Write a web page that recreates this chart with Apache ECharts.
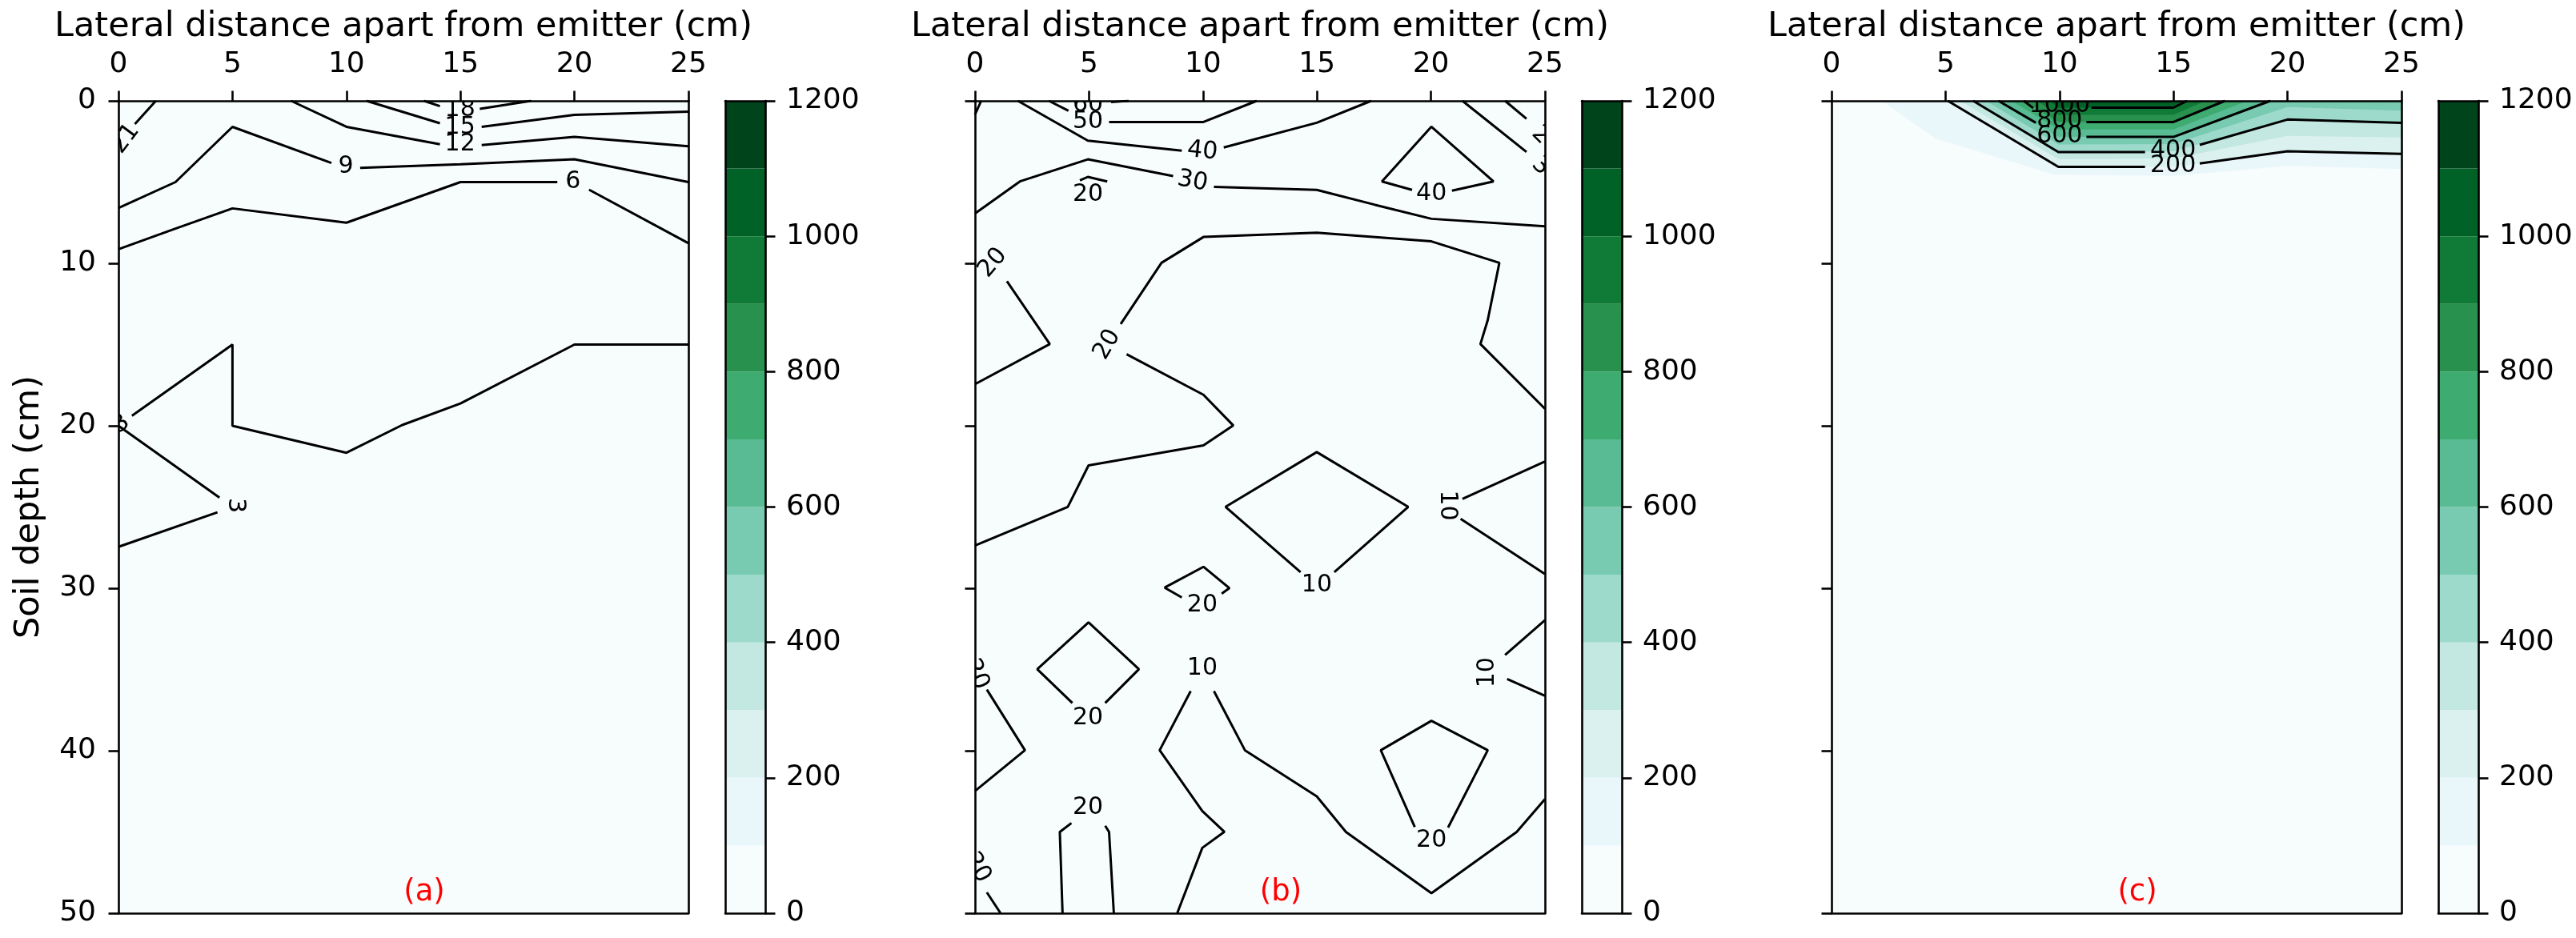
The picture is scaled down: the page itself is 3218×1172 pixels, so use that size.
<!DOCTYPE html>
<html>
<head>
<meta charset="utf-8">
<script src="https://cdn.jsdelivr.net/npm/echarts@6/dist/echarts.min.js"></script>
<style>
  html, body { margin: 0; padding: 0; background: #fff; }
  #chart { width: 3218px; height: 1172px; }
</style>
</head>
<body>
<div id="chart"></div>
<script>
// axis ticks
const xTicks = [0, 5, 10, 15, 20, 25];
const yTicks = [0, 10, 20, 30, 40, 50];
const cbTicks = [0, 200, 400, 600, 800, 1000, 1200];
// filled contour levels and their colours (BuGn)
const levels = [0, 100, 200, 300, 400, 500, 600, 700, 800, 900, 1000, 1100, 1200];
const bandColors = ['#f7fcfd', '#eaf7fa', '#daf1f0', '#c3e8e1', '#9edacc', '#78cab1',
  '#59bb93', '#3eab71', '#29914e', '#107b37', '#006227', '#00441b'];

const xName = 'Lateral distance apart from emitter (cm)';
const yName = 'Soil depth (cm)';
const panelTags = ['(a)', '(b)', '(c)'];

// panel (a): contour lines (levels 3..21), pieces broken where labels sit
const linesA = [
  [[1.64, 0], [0.72, 1.43]],                                   // 21
  [[13.4, 0], [14.1, 0.33]], [[15.85, 0.49], [18.1, 0]],       // 18
  [[10.88, 0], [14.1, 1.38]], [[15.93, 1.6], [20, 0.86], [25, 0.66]],   // 15
  [[7.57, 0], [10, 1.6], [14.1, 2.67]], [[15.93, 2.72], [20, 2.22], [25, 2.8]],  // 12
  [[0, 6.6], [2.5, 5], [5, 1.6], [9.34, 3.82]], [[10.6, 4.12], [15, 3.9], [20, 3.6], [25, 5.0]], // 9
  [[0, 9.13], [2.5, 7.86], [5, 6.62], [10, 7.5], [15, 5.0], [19.25, 5.0]], [[20.64, 5.47], [25, 8.76]], // 6
  [[0.59, 19.38], [5, 15], [5, 20], [10, 21.66], [12.45, 19.95], [15, 18.63], [20, 15], [25, 15]], // 3
  [[0, 20], [4.43, 24.42]], [[4.34, 25.33], [0, 27.45]]        // 3
];
const labelsA = [
  [0.31, 2.33, '21', 53],
  [14.98, 0.55, '18', 0],
  [14.98, 1.62, '15', 0],
  [14.98, 2.67, '12', 0],
  [9.97, 4.07, '9', 0],
  [19.94, 4.98, '6', 0],
  [0.12, 19.9, '3', 35],
  [5.13, 24.9, '3', -90]
];

// panel (b): contour lines (levels 10..60)
const linesB = [
  [[0, 0.85], [0.27, 0]],
  [[5.97, 0.08], [6.74, 0]],                                    // 60
  [[3.24, 0], [4.1, 0.61]], [[5.88, 1.31], [10, 1.31], [12.36, 0]],   // 50
  [[1.88, 0], [4.95, 2.45], [9.07, 3.07]], [[10.91, 2.87], [14.99, 1.35], [17.38, 0]], // 40
  [[0, 6.93], [1.97, 4.96], [4.95, 3.6], [8.69, 4.63]],
  [[10.48, 5.29], [14.99, 5.48], [17.55, 6.4], [20.02, 7.26], [25, 7.72]],  // 30
  [[19.17, 5.48], [17.85, 4.96], [20.02, 1.59], [22.74, 4.96], [20.92, 5.53]], // 40
  [[4.6, 4.9], [4.95, 4.68], [5.8, 4.96]],                      // 20
  [[21.38, 0], [24.19, 3.15]],                                  // 30
  [[23.25, 0], [24.19, 1.1]],                                   // 20
  [[1.4, 11.1], [3.28, 14.97], [0, 17.44]],                     // 20
  [[0, 27.37], [4.07, 24.99], [4.98, 22.44], [10.02, 21.21], [11.33, 19.98], [10.02, 18.09], [6.65, 15.6]],
  [[6.39, 13.74], [8.18, 9.97], [10.02, 8.38], [14.99, 8.11], [20.02, 8.65], [23.0, 9.97],
    [22.49, 13.5], [22.17, 14.97], [25, 18.95]],               // 20
  [[15.76, 29.01], [19.0, 24.99], [14.99, 21.62], [10.99, 24.99], [14.28, 29.01]], // 10
  [[25, 22.2], [21.38, 24.5]], [[21.3, 25.73], [25, 29.13]],    // 10
  [[9.07, 30.57], [8.32, 29.96], [10.02, 28.68], [11.16, 29.99], [10.82, 30.33]], // 20
  [[25, 31.97], [23.25, 34.11]], [[23.34, 35.59], [25, 36.62]], // 10
  [[4.27, 37.06], [2.73, 34.98], [4.98, 32.1], [7.19, 34.98], [5.71, 37.06]], // 20
  [[0.52, 36.24], [2.19, 39.97], [0, 42.48]],                   // 20
  [[0.52, 48.72], [1.12, 50]],                                  // 20
  [[3.84, 50], [3.72, 45.0], [4.23, 44.45]], [[5.71, 44.62], [5.88, 45.0], [6.09, 50]], // 20
  [[8.87, 50], [9.97, 45.98], [10.94, 44.99], [9.97, 43.71], [8.10, 39.97], [9.46, 36.33]],
  [[10.48, 36.33], [11.84, 39.97], [14.99, 42.81], [16.27, 45.0], [20.02, 48.77], [23.76, 45.0], [25, 42.98]], // 10
  [[19.29, 44.7], [17.8, 39.97], [20.02, 38.16], [22.49, 39.97], [20.75, 44.73]]  // 20
];
const labelsB = [
  [4.95, 0.28, '60', 0],
  [4.95, 1.31, '50', 0],
  [9.97, 3.1, '40', -6],
  [9.54, 4.96, '30', -11],
  [20.02, 5.7, '40', 0],
  [4.95, 5.75, '20', 0],
  [25.05, 2.45, '20', -45],
  [25.05, 4.35, '30', -45],
  [0.78, 9.97, '20', 50],
  [5.8, 15.0, '20', 60],
  [14.99, 29.83, '10', 0],
  [20.7, 24.9, '10', -90],
  [9.97, 31.03, '20', 0],
  [22.49, 35.18, '10', 90],
  [4.95, 37.97, '20', 0],
  [0.05, 35.3, '20', -67],
  [0.1, 47.2, '20', -60],
  [4.95, 43.52, '20', 0],
  [9.97, 34.93, '10', 0],
  [20.02, 45.52, '20', 0]
];

// panel (c): contour lines (levels 200..1000)
const linesC = [
  [[5.1, 0], [9.95, 4.06], [13.75, 4.06]], [[16.15, 3.86], [20, 3.1], [25, 3.26]],   // 200
  [[6.21, 0], [9.95, 3.15], [13.75, 3.15]], [[16.15, 2.71], [20, 1.15], [25, 1.35]], // 400
  [[7.32, 0], [8.96, 1.35]], [[11.18, 2.22], [15, 2.22], [19.25, 0]],               // 600
  [[8.43, 0], [8.85, 0.45]], [[11.18, 1.3], [15, 1.3], [17.26, 0]],                 // 800
  [[11.4, 0.42], [15, 0.42], [15.6, 0]]                                             // 1000
];
const labelsC = [
  [10.0, 0.3, '1000', 0],
  [10.0, 1.26, '800', 0],
  [10.0, 2.2, '600', 0],
  [14.98, 3.05, '400', 0],
  [14.98, 4.0, '200', 0]
];
// panel (c): boundaries of the filled bands, 100 .. 1100 (region above each is filled)
const fillC = [
  [[2.2, 0], [4.56, 2.31], [9.77, 4.54], [15, 4.62], [20, 4.0], [25, 4.2]],
  [[5.1, 0], [9.95, 4.06], [15, 4.06], [20, 3.1], [25, 3.26]],
  [[5.65, 0], [9.95, 3.6], [15, 3.55], [20, 2.15], [25, 2.25]],
  [[6.21, 0], [9.95, 3.15], [15, 3.1], [20, 1.15], [25, 1.35]],
  [[6.77, 0], [9.95, 2.68], [15, 2.66], [20, 0.38], [25, 0.6]],
  [[7.32, 0], [9.95, 2.22], [15, 2.22], [19.25, 0]],
  [[7.9, 0], [9.95, 1.76], [15, 1.76], [18.25, 0]],
  [[8.45, 0], [9.95, 1.3], [15, 1.3], [17.26, 0]],
  [[9.0, 0], [9.95, 0.86], [15, 0.86], [16.4, 0]],
  [[9.55, 0], [9.95, 0.42], [15, 0.42], [15.6, 0]],
  [[10.1, 0], [10.4, 0.12], [14.8, 0.12], [15.1, 0]]
];

const panels = [
  { lines: linesA, labels: labelsA, fills: [] },
  { lines: linesB, labels: labelsB, fills: [] },
  { lines: linesC, labels: labelsC, fills: fillC }
];

const FONT = 'DejaVu Sans';
const plotLeft = [148, 1218, 2288];
const cbLeft = [906, 1976, 3046];
const TOP = 126, H = 1015, W = 712, CBW = 50;

const spine = { show: true, onZero: false, lineStyle: { color: '#000', width: 2.6 } };
const tick = { show: true, inside: false, length: 12.5, lineStyle: { color: '#000', width: 2.6 } };
const tickText = { color: '#000', fontSize: 36, fontFamily: FONT, formatter: function (v) { return String(v); } };
const xMin = xTicks[0], xMax = xTicks[xTicks.length - 1];
const yMin = yTicks[0], yMax = yTicks[yTicks.length - 1];

const grids = [], xAxes = [], yAxes = [], series = [];

function labelItem(list) {
  return function (params, api) {
    const d = list[params.dataIndex];
    const p = api.coord([d[0], d[1]]);
    return {
      type: 'text', x: p[0], y: p[1], rotation: d[3] * Math.PI / 180,
      style: { text: d[2], fontSize: 30, fontFamily: FONT, fill: '#000', align: 'center', verticalAlign: 'middle' }
    };
  };
}

function fillItem(list) {
  return function (params, api) {
    const pts = list[params.dataIndex].slice();
    const last = pts[pts.length - 1];
    if (last[1] > 0) pts.push([xMax, 0]);
    return {
      type: 'polygon',
      shape: { points: pts.map(function (q) { return api.coord(q); }) },
      style: { fill: bandColors[params.dataIndex + 1] }
    };
  };
}

panels.forEach(function (pn, i) {
  // indices: plot grid 2i, colour bar grid 2i+1; four axes of each kind per panel
  const pg = 2 * i, cg = 2 * i + 1;
  const pa = 4 * i, ca = 4 * i + 2;

  grids.push({ left: plotLeft[i], top: TOP, width: W, height: H, show: true,
    backgroundColor: bandColors[0], borderWidth: 0 });
  grids.push({ left: cbLeft[i], top: TOP, width: CBW, height: H });

  xAxes.push({ gridIndex: pg, type: 'value', position: 'top', min: xMin, max: xMax,
    interval: xTicks[1] - xTicks[0], axisLine: spine, axisTick: tick,
    axisLabel: Object.assign({ margin: 27 }, tickText), splitLine: { show: false },
    name: xName, nameLocation: 'middle', nameGap: 71,
    nameTextStyle: { color: '#000', fontSize: 43, fontFamily: FONT }, z: 10 });
  xAxes.push({ gridIndex: pg, type: 'value', position: 'bottom', min: xMin, max: xMax,
    axisLine: spine, axisTick: { show: false }, axisLabel: { show: false },
    splitLine: { show: false }, z: 10 });
  xAxes.push({ gridIndex: cg, type: 'category', data: [''], position: 'bottom', axisLine: spine,
    axisTick: { show: false }, axisLabel: { show: false }, z: 10 });
  xAxes.push({ gridIndex: cg, type: 'category', data: [''], position: 'top', axisLine: spine,
    axisTick: { show: false }, axisLabel: { show: false }, z: 10 });

  yAxes.push({ gridIndex: pg, type: 'value', position: 'left', inverse: true, min: yMin, max: yMax,
    interval: yTicks[1] - yTicks[0], axisLine: spine, axisTick: tick,
    axisLabel: Object.assign({ show: i === 0, margin: 28 }, tickText), splitLine: { show: false },
    name: i === 0 ? yName : '', nameLocation: 'middle', nameRotate: 90, nameGap: 90,
    nameTextStyle: { color: '#000', fontSize: 43, fontFamily: FONT }, z: 10 });
  yAxes.push({ gridIndex: pg, type: 'value', position: 'right', inverse: true, min: yMin, max: yMax,
    axisLine: spine, axisTick: { show: false }, axisLabel: { show: false },
    splitLine: { show: false }, z: 10 });
  yAxes.push({ gridIndex: cg, type: 'value', position: 'right', min: levels[0], max: levels[levels.length - 1],
    interval: cbTicks[1] - cbTicks[0], axisLine: spine, axisTick: tick,
    axisLabel: Object.assign({ margin: 26 }, tickText), splitLine: { show: false }, z: 10 });
  yAxes.push({ gridIndex: cg, type: 'value', position: 'left', min: levels[0], max: levels[levels.length - 1],
    axisLine: spine, axisTick: { show: false }, axisLabel: { show: false }, splitLine: { show: false }, z: 10 });

  if (pn.fills.length) {
    series.push({ type: 'custom', xAxisIndex: pa, yAxisIndex: pa, clip: true, silent: true, z: 1,
      data: pn.fills.map(function (c) { return c[0]; }), encode: { x: 0, y: 1 },
      renderItem: fillItem(pn.fills) });
  }
  pn.lines.forEach(function (pts) {
    series.push({ type: 'line', xAxisIndex: pa, yAxisIndex: pa, data: pts,
      showSymbol: false, symbol: 'none', clip: true, silent: true, z: 3,
      lineStyle: { color: '#000', width: 3 } });
  });
  series.push({ type: 'custom', xAxisIndex: pa, yAxisIndex: pa, clip: true, silent: true, z: 4,
    data: pn.labels.map(function (l) { return [l[0], l[1]]; }), encode: { x: 0, y: 1 },
    renderItem: labelItem(pn.labels) });

  // colour bar
  for (let k = 0; k < levels.length - 1; k++) {
    series.push({ type: 'bar', xAxisIndex: ca, yAxisIndex: ca, stack: 'cb' + i, barWidth: '100%',
      data: [levels[k + 1] - levels[k]], itemStyle: { color: bandColors[k] }, silent: true });
  }
});

const chart = echarts.init(document.getElementById('chart'));
chart.setOption({
  animation: false,
  backgroundColor: '#fff',
  grid: grids,
  xAxis: xAxes,
  yAxis: yAxes,
  series: series,
  graphic: panelTags.map(function (t, i) {
    return { type: 'text', x: plotLeft[i] + 382, y: 1115, z: 20,
      style: { text: t, fill: '#ff0000', fontSize: 37, fontFamily: FONT, align: 'center', verticalAlign: 'middle' } };
  })
});
</script>
</body>
</html>
